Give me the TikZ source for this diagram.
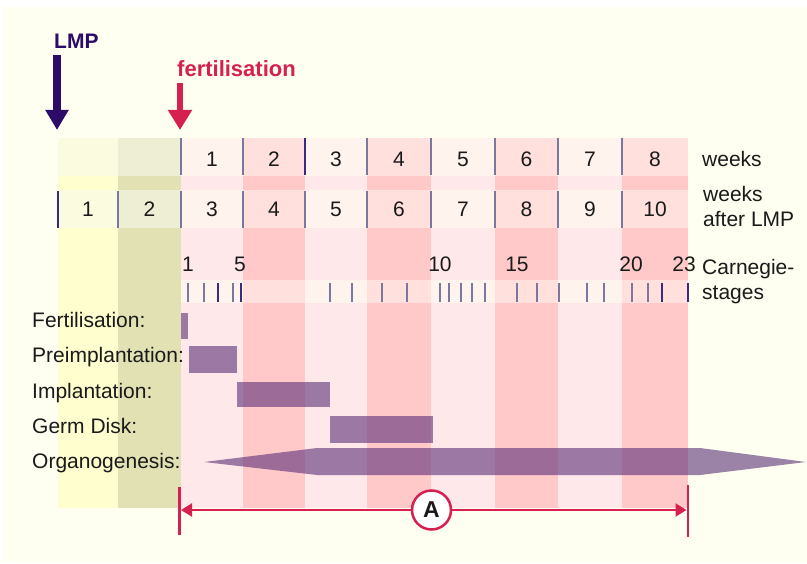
\documentclass[tikz,border=0pt]{standalone}
\usepackage{fontspec}
\setmainfont{Liberation Sans}
\usetikzlibrary{arrows.meta}
\definecolor{cream}{HTML}{FEFFF0}
\definecolor{lpk}{HTML}{FFE8EA}
\definecolor{lpkc}{HTML}{FFF3EE}
\definecolor{dpk}{HTML}{FFC9C9}
\definecolor{dpkc}{HTML}{FFE0DC}
\definecolor{lyel}{HTML}{FEFECF}
\definecolor{lyelc}{HTML}{FBFBE0}
\definecolor{oliv}{HTML}{E1E1B4}
\definecolor{olivc}{HTML}{EEEED5}
\definecolor{divc}{HTML}{7878A0}
\definecolor{divd}{HTML}{3A2A80}
\definecolor{lmpc}{HTML}{2C0C68}
\definecolor{crim}{HTML}{D62050}
\definecolor{barc}{HTML}{4B1E6E}
\definecolor{txt}{HTML}{1A1A1A}
\tikzset{
  lbl/.style={inner sep=0pt, text=txt, font=\fontsize{21}{25}\selectfont},
  num/.style={lbl, anchor=base},
  divline/.style={draw=divc, line width=2pt},
  divdark/.style={draw=divd, line width=2pt},
  tickline/.style={draw=divc, line width=2pt},
  tickdark/.style={draw=divd, line width=2pt},
  gantt/.style={fill=barc, fill opacity=0.55, draw=none},
  redline/.style={draw=crim, line width=2.3pt},
}
\begin{document}
\begin{tikzpicture}[x=1pt,y=-1pt]
\useasboundingbox (0,0) rectangle (807,564);
\fill[white] (0,0) rectangle (807,564);
\fill[cream] (3,7) rectangle (807,562);

% LMP columns
\fill[lyel] (58,138) rectangle (118,508);
\fill[oliv] (118,138) rectangle (181,508);
\fill[lyelc] (58,138) rectangle (118,176);
\fill[lyelc] (58,190) rectangle (118,228);
\fill[olivc] (118,138) rectangle (181,176);
\fill[olivc] (118,190) rectangle (181,228);

% embryonic week columns
\foreach \a/\b/\bc/\cc in {181/243/lpk/lpkc, 243/305/dpk/dpkc, 305/367/lpk/lpkc, 367/431/dpk/dpkc,
                          431/495/lpk/lpkc, 495/558/dpk/dpkc, 558/622/lpk/lpkc, 622/688/dpk/dpkc}{
  \fill[\bc] (\a,138) rectangle (\b,508);
  \fill[\cc] (\a,138) rectangle (\b,176);
  \fill[\cc] (\a,190) rectangle (\b,228);
  \fill[\cc] (\a,280) rectangle (\b,303);
}

% dividers
\foreach \x in {181,243,367,431,495,558,622}{
  \draw[divline] (\x,138) -- (\x,175);
}
\draw[divdark] (305,138) -- (305,175);
\foreach \x in {118,181,243,305,367,431,495,558,622}{
  \draw[divline] (\x,191) -- (\x,228);
}
\draw[divdark] (58,191) -- (58,228);

% week numbers
\foreach \c/\t in {212/1,274/2,336/3,399/4,463/5,526.5/6,590/7,655/8}{
  \node[num] (w\t) at (\c,167) {\t};
}
\foreach \c/\t in {88/1,149.5/2,212/3,274/4,336/5,399/6,463/7,526.5/8,590/9,655/10}{
  \node[num] (l\t) at (\c,217) {\t};
}
\node[lbl, anchor=base west] (weeks) at (702,167) {weeks};
\node[lbl, anchor=base west] (weeksb) at (703,202) {weeks};
\node[lbl, anchor=base west] (afterlmp) at (703,227) {after LMP};

% Carnegie stages
\foreach \x in {188,204,233,330,352,382,407,440,449,461,472,485,517,537,559,587,604,632,648}{
  \draw[tickline] (\x,283) -- (\x,302);
}
\foreach \x in {218,241,662,688}{
  \draw[tickdark] (\x,283) -- (\x,302);
}
\foreach \c/\t in {188/1,240/5,440/10,517/15,631/20,684/23}{
  \node[num] (s\t) at (\c,272) {\t};
}
\node[lbl, anchor=base west] (carn) at (702,275) {Carnegie-};
\node[lbl, anchor=base west] (stag) at (702,300) {stages};

% phase labels
\node[lbl, anchor=base west] (fertl) at (32,328) {Fertilisation:};
\node[lbl, anchor=base west] (prel) at (32,363) {Preimplantation:};
\node[lbl, anchor=base west] (impl) at (32,399) {Implantation:};
\node[lbl, anchor=base west] (germl) at (32,433) {Germ Disk:};
\node[lbl, anchor=base west] (orgl) at (32,468) {Organogenesis:};

% phase bars
\fill[gantt] (181,313) rectangle (188,339);
\fill[gantt] (189,346) rectangle (237,373);
\fill[gantt] (237,382) rectangle (330,407);
\fill[gantt] (330,416) rectangle (433,443);
\fill[gantt] (204,462) -- (317,448) -- (700,448) -- (806,462) -- (700,475) -- (317,475) -- cycle;

% top arrows
\node[inner sep=0pt, anchor=base west, text=lmpc, font=\bfseries\fontsize{21}{25}\selectfont] (lmp) at (54,49) {LMP};
\coordinate (lmptop) at (57,55);
\coordinate (lmptip) at (57,130);
\draw[draw=lmpc, line width=8pt, -{Triangle[length=20pt,width=22pt]}] (lmptop) -- (lmptip);
\node[inner sep=0pt, anchor=base west, text=crim, font=\bfseries\fontsize{22}{26}\selectfont] (fert) at (177,77) {fertilisation};
\coordinate (ferttop) at (180,83);
\coordinate (ferttip) at (180,130);
\draw[draw=crim, line width=6pt, -{Triangle[length=20pt,width=23pt]}] (ferttop) -- (ferttip);

% bottom span A
\draw[redline] (179.5,487) -- (179.5,535);
\draw[redline] (688,485) -- (688,537);
\coordinate (larr) at (181,510);
\coordinate (rarr) at (686.5,510);
\node[circle, draw=crim, line width=2.5pt, fill=white, minimum size=39pt, inner sep=0pt,
      text=txt, font=\bfseries\fontsize{23}{23}\selectfont] (A) at (431.5,510) {A};
\draw[redline, -{Triangle[length=11pt,width=13pt]}] (A.west) -- (larr);
\draw[redline, -{Triangle[length=11pt,width=13pt]}] (A.east) -- (rarr);
\end{tikzpicture}
\end{document}
